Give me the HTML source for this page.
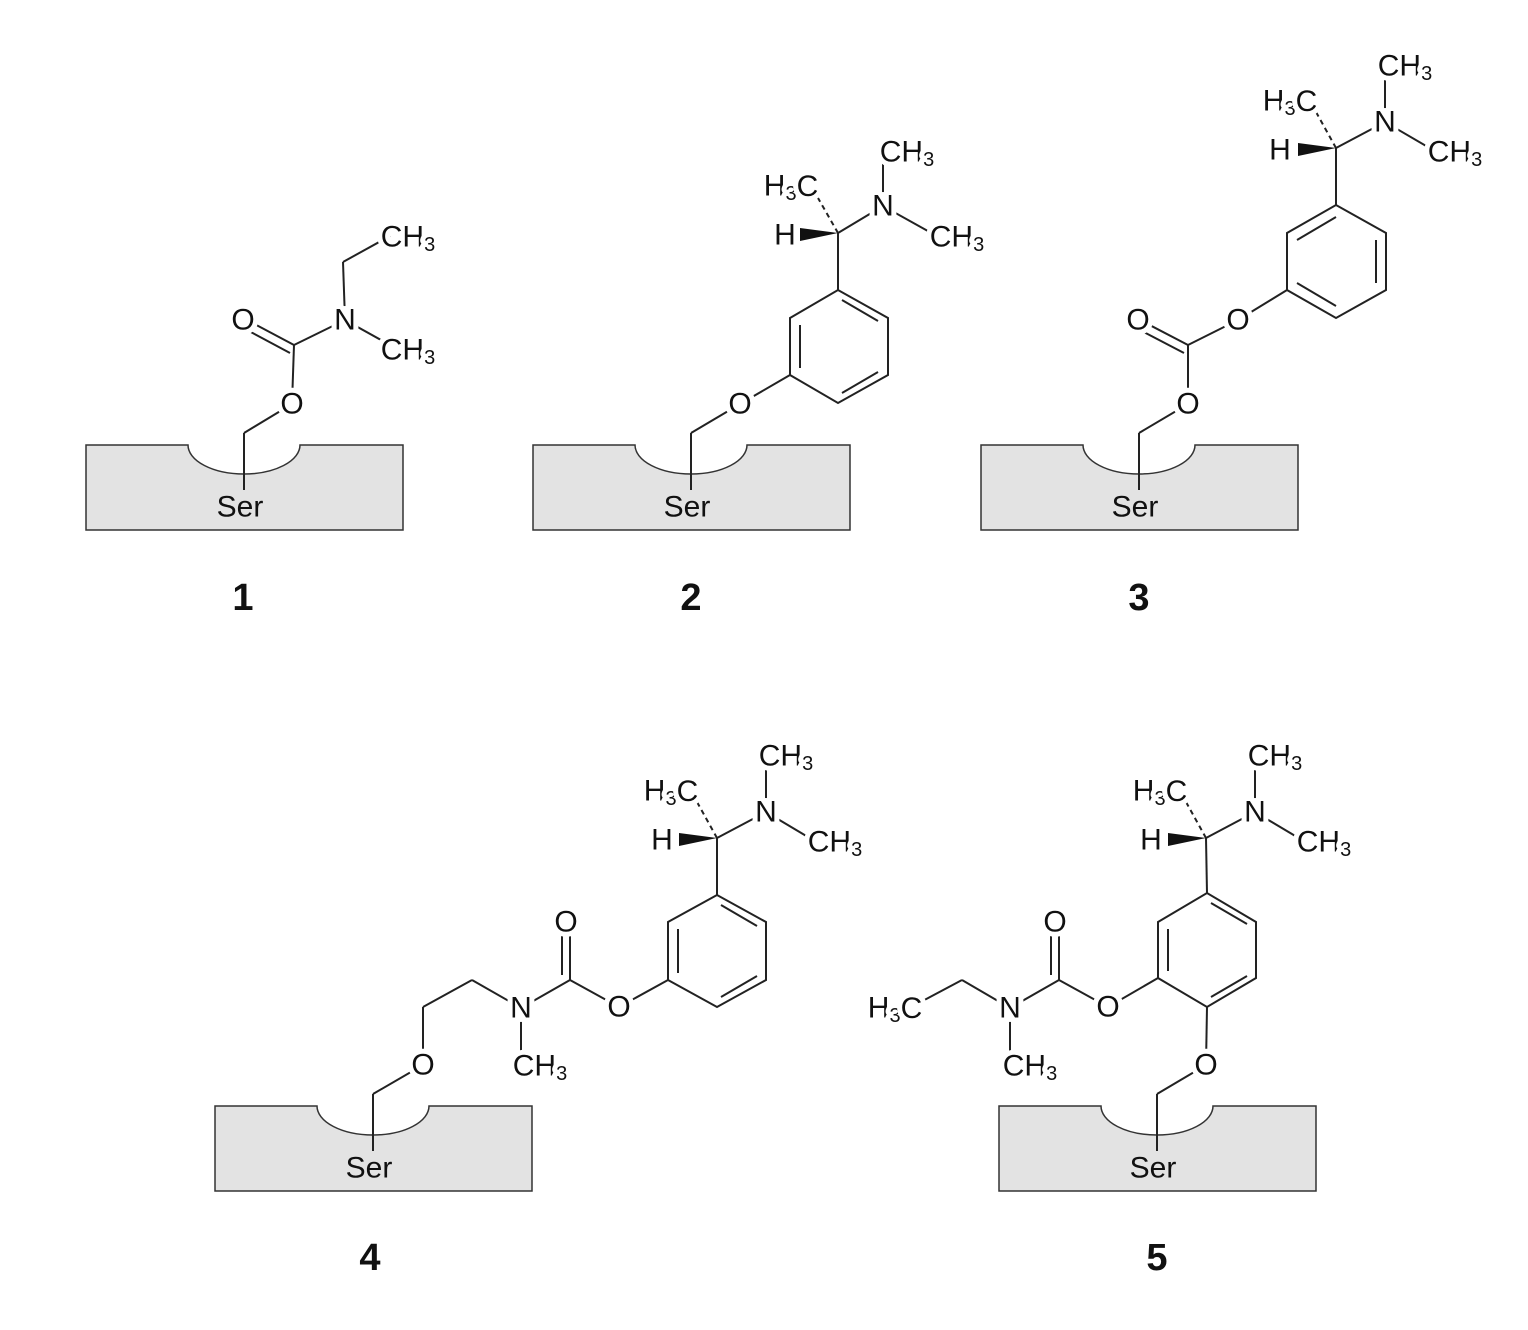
<!DOCTYPE html>
<html><head><meta charset="utf-8"><style>
html,body{margin:0;padding:0;background:#fff;}
svg{display:block;}
text{font-family:"Liberation Sans",Arial,sans-serif;font-size:30px;fill:#111;text-anchor:middle;dominant-baseline:central;paint-order:stroke;stroke:#fff;stroke-width:10px;stroke-linejoin:round;}
text.n{font-size:38px;font-weight:bold;stroke:none;}
text.s{stroke:none;}
line,polyline,path.b{stroke:#222;stroke-width:2;fill:none;}
circle.w{fill:#fff;}
</style></head><body>
<svg width="1528" height="1330" viewBox="0 0 1528 1330" xmlns="http://www.w3.org/2000/svg">
<defs>
<g id="box">
<path d="M86,445 H188 A56,29 0 0 0 300,445 H403 V530 H86 Z" fill="#e3e3e3" stroke="#333" stroke-width="1.5"/>
<line x1="244" y1="433" x2="244" y2="490"/>
<text class="s" x="240" y="507">Ser</text>
</g>
</defs>

<!-- 1 -->
<use href="#box"/>
<line x1="244" y1="433" x2="292" y2="404"/>
<line x1="292" y1="404" x2="294" y2="345"/>
<line x1="294" y1="345" x2="247" y2="320"/>
<line x1="290" y1="353" x2="247" y2="330"/>
<line x1="294" y1="345" x2="345" y2="320"/>
<line x1="345" y1="320" x2="343" y2="262"/>
<line x1="343" y1="262" x2="390" y2="236"/>
<line x1="345" y1="320" x2="390" y2="345"/>
<circle class="w" cx="292" cy="404" r="14"/><circle class="w" cx="243" cy="320" r="14"/><circle class="w" cx="345" cy="320" r="14"/>
<text x="292" y="404">O</text>
<text x="243" y="320">O</text>
<text x="345" y="320">N</text>
<text x="408" y="237">CH<tspan font-size="20" dy="8">3</tspan></text>
<text x="408" y="350">CH<tspan font-size="20" dy="8">3</tspan></text>
<text class="n" x="243" y="598">1</text>

<!-- 2 -->
<use href="#box" transform="translate(447,0)"/>
<line x1="691" y1="433" x2="740" y2="404"/>
<line x1="740" y1="404" x2="790" y2="375"/>
<polygon points="790,318 838,290 888,318 888,375 838,403 790,375" fill="none" stroke="#222" stroke-width="2"/>
<line x1="800" y1="325" x2="800" y2="368"/>
<line x1="842" y1="300" x2="878" y2="321"/>
<line x1="842" y1="393" x2="878" y2="372"/>
<line x1="838" y1="290" x2="838" y2="233"/>
<line x1="838" y1="233" x2="883" y2="206"/>
<line x1="883" y1="206" x2="883" y2="160"/>
<line x1="883" y1="206" x2="935" y2="235"/>
<polygon points="838,233 800,228 800,241" fill="#111"/>
<line x1="838" y1="233" x2="818" y2="198" stroke-dasharray="5,4"/>
<circle class="w" cx="740" cy="404" r="14"/><circle class="w" cx="883" cy="206" r="14"/>
<text x="740" y="404">O</text>
<text x="883" y="206">N</text>
<text x="785" y="235">H</text>
<text x="791" y="186">H<tspan font-size="20" dy="8">3</tspan><tspan dy="-8">C</tspan></text>
<text x="907" y="152">CH<tspan font-size="20" dy="8">3</tspan></text>
<text x="957" y="237">CH<tspan font-size="20" dy="8">3</tspan></text>
<text class="n" x="691" y="598">2</text>

<!-- 3 -->
<use href="#box" transform="translate(895,0)"/>
<line x1="1139" y1="433" x2="1188" y2="404"/>
<line x1="1188" y1="404" x2="1188" y2="345"/>
<line x1="1188" y1="345" x2="1140" y2="320"/>
<line x1="1184" y1="353" x2="1140" y2="330"/>
<line x1="1188" y1="345" x2="1238" y2="320"/>
<line x1="1238" y1="320" x2="1287" y2="290"/>
<polygon points="1287,290 1287,233 1336,205 1386,233 1386,290 1336,318" fill="none" stroke="#222" stroke-width="2"/>
<line x1="1376" y1="240" x2="1376" y2="283"/>
<line x1="1297" y1="283" x2="1336" y2="306"/>
<line x1="1297" y1="240" x2="1336" y2="217"/>
<line x1="1336" y1="205" x2="1336" y2="148"/>
<line x1="1336" y1="148" x2="1385" y2="122"/>
<line x1="1385" y1="122" x2="1385" y2="75"/>
<line x1="1385" y1="122" x2="1433" y2="150"/>
<polygon points="1336,148 1298,143 1298,156" fill="#111"/>
<line x1="1336" y1="148" x2="1316" y2="112" stroke-dasharray="5,4"/>
<circle class="w" cx="1188" cy="404" r="14"/><circle class="w" cx="1138" cy="320" r="14"/><circle class="w" cx="1238" cy="320" r="14"/><circle class="w" cx="1385" cy="122" r="14"/>
<text x="1188" y="404">O</text>
<text x="1138" y="320">O</text>
<text x="1238" y="320">O</text>
<text x="1385" y="122">N</text>
<text x="1280" y="150">H</text>
<text x="1290" y="101">H<tspan font-size="20" dy="8">3</tspan><tspan dy="-8">C</tspan></text>
<text x="1405" y="66">CH<tspan font-size="20" dy="8">3</tspan></text>
<text x="1455" y="152">CH<tspan font-size="20" dy="8">3</tspan></text>
<text class="n" x="1139" y="598">3</text>

<!-- 4 -->
<use href="#box" transform="translate(129,661)"/>
<line x1="373" y1="1094" x2="423" y2="1065"/>
<line x1="423" y1="1065" x2="423" y2="1007"/>
<line x1="423" y1="1007" x2="472" y2="980"/>
<line x1="472" y1="980" x2="521" y2="1008"/>
<line x1="521" y1="1008" x2="521" y2="1055"/>
<line x1="521" y1="1008" x2="570" y2="980"/>
<line x1="570" y1="980" x2="570" y2="922"/>
<line x1="562" y1="975" x2="562" y2="922"/>
<line x1="570" y1="980" x2="619" y2="1007"/>
<line x1="619" y1="1007" x2="668" y2="980"/>
<polygon points="668,980 717,1007 766,980 766,922 717,895 668,922" fill="none" stroke="#222" stroke-width="2"/>
<line x1="678" y1="929" x2="678" y2="973"/>
<line x1="721" y1="905" x2="757" y2="926"/>
<line x1="721" y1="997" x2="757" y2="976"/>
<line x1="717" y1="895" x2="717" y2="838"/>
<line x1="717" y1="838" x2="766" y2="812"/>
<line x1="766" y1="812" x2="766" y2="765"/>
<line x1="766" y1="812" x2="813" y2="840"/>
<polygon points="717,838 679,833 679,846" fill="#111"/>
<line x1="717" y1="838" x2="697" y2="802" stroke-dasharray="5,4"/>
<circle class="w" cx="423" cy="1065" r="14"/><circle class="w" cx="521" cy="1008" r="14"/><circle class="w" cx="566" cy="922" r="14"/><circle class="w" cx="619" cy="1007" r="14"/><circle class="w" cx="766" cy="812" r="14"/>
<text x="423" y="1065">O</text>
<text x="521" y="1008">N</text>
<text x="566" y="922">O</text>
<text x="619" y="1007">O</text>
<text x="766" y="812">N</text>
<text x="540" y="1066">CH<tspan font-size="20" dy="8">3</tspan></text>
<text x="662" y="840">H</text>
<text x="671" y="791">H<tspan font-size="20" dy="8">3</tspan><tspan dy="-8">C</tspan></text>
<text x="786" y="756">CH<tspan font-size="20" dy="8">3</tspan></text>
<text x="835" y="842">CH<tspan font-size="20" dy="8">3</tspan></text>
<text class="n" x="370" y="1258">4</text>

<!-- 5 -->
<use href="#box" transform="translate(913,661)"/>
<line x1="1157" y1="1094" x2="1206" y2="1065"/>
<line x1="1206" y1="1065" x2="1207" y2="1007"/>
<polygon points="1158,922 1207,893 1256,922 1256,978 1207,1007 1158,978" fill="none" stroke="#222" stroke-width="2"/>
<line x1="1168" y1="929" x2="1168" y2="971"/>
<line x1="1211" y1="903" x2="1247" y2="924"/>
<line x1="1211" y1="997" x2="1247" y2="976"/>
<line x1="1158" y1="978" x2="1108" y2="1007"/>
<line x1="1108" y1="1007" x2="1059" y2="980"/>
<line x1="1059" y1="980" x2="1059" y2="922"/>
<line x1="1051" y1="975" x2="1051" y2="922"/>
<line x1="1059" y1="980" x2="1010" y2="1008"/>
<line x1="1010" y1="1008" x2="1010" y2="1055"/>
<line x1="1010" y1="1008" x2="962" y2="980"/>
<line x1="962" y1="980" x2="915" y2="1005"/>
<line x1="1207" y1="893" x2="1206" y2="838"/>
<line x1="1206" y1="838" x2="1255" y2="812"/>
<line x1="1255" y1="812" x2="1255" y2="765"/>
<line x1="1255" y1="812" x2="1302" y2="840"/>
<polygon points="1206,838 1168,833 1168,846" fill="#111"/>
<line x1="1206" y1="838" x2="1186" y2="802" stroke-dasharray="5,4"/>
<circle class="w" cx="1206" cy="1065" r="14"/><circle class="w" cx="1108" cy="1007" r="14"/><circle class="w" cx="1055" cy="922" r="14"/><circle class="w" cx="1010" cy="1008" r="14"/><circle class="w" cx="1255" cy="812" r="14"/>
<text x="1206" y="1065">O</text>
<text x="1108" y="1007">O</text>
<text x="1055" y="922">O</text>
<text x="1010" y="1008">N</text>
<text x="1255" y="812">N</text>
<text x="1030" y="1066">CH<tspan font-size="20" dy="8">3</tspan></text>
<text x="895" y="1008">H<tspan font-size="20" dy="8">3</tspan><tspan dy="-8">C</tspan></text>
<text x="1151" y="840">H</text>
<text x="1160" y="791">H<tspan font-size="20" dy="8">3</tspan><tspan dy="-8">C</tspan></text>
<text x="1275" y="756">CH<tspan font-size="20" dy="8">3</tspan></text>
<text x="1324" y="842">CH<tspan font-size="20" dy="8">3</tspan></text>
<text class="n" x="1157" y="1258">5</text>
</svg>
</body></html>
